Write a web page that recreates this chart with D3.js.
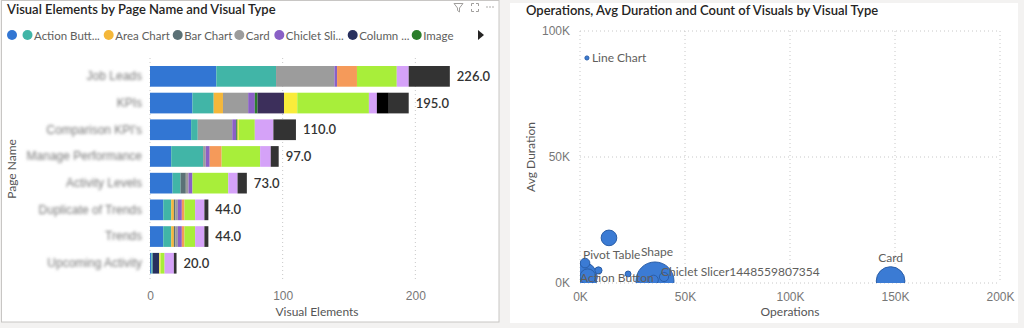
<!DOCTYPE html>
<html>
<head>
<meta charset="utf-8">
<script src="https://cdn.jsdelivr.net/npm/d3@7"></script>
<style>
  body { margin: 0; background: #f3f2f1; }
  svg { display: block; font-family: "Segoe UI", Lato, "Open Sans", sans-serif; }
</style>
</head>
<body>
<div id="chart"></div>
<script>
// ---- left chart data: visual elements per page, stacked by visual type ----
const pages = ["Job Leads", "KPIs", "Comparison KPI's", "Manage Performance",
  "Activity Levels", "Duplicate of Trends", "Trends", "Upcoming Activity"];
const visualTypes = ["", "Action Button", "Area Chart", "Bar Chart", "Card", "Chiclet Slicer",
  "Column Chart", "Image", "KPI", "Line Chart", "Multi-row Card", "Shape", "Slicer", "Table", "Textbox"];
const typeColors = ["#3276d3", "#41b5a7", "#f4b73a", "#5b7176", "#9c9c9c", "#8a60c6",
  "#28305e", "#2b7d2b", "#f59a5a", "#3c2f5b", "#f9ec3b", "#a8ee3a", "#d5a2f8", "#000000", "#333333"];
const legendLabels = ["", "Action Butt...", "Area Chart", "Bar Chart", "Card", "Chiclet Sli...", "Column ...", "Image"];

const countBlank     = [50, 32, 31, 16, 17, 10, 10, 1];
const countAction    = [45, 16, 5, 24, 6, 6, 6, 1];
const countArea      = [0, 7, 0, 0, 0, 2, 2, 0];
const countBar       = [0, 0, 0, 0, 4, 1, 1, 0];
const countCard      = [44, 19, 26, 2, 2, 2, 2, 0];
const countChiclet   = [2, 5, 3, 3, 3, 3, 3, 0];
const countColumn    = [0, 0, 0, 0, 0, 0, 0, 5];
const countImage     = [0, 2, 1, 0, 0, 0, 0, 0];
const countKpi       = [15, 0, 0, 9, 0, 2, 2, 0];
const countLine      = [0, 20, 0, 0, 0, 0, 0, 0];
const countMultiRow  = [0, 10, 1, 0, 0, 0, 0, 1];
const countShape     = [30, 54, 12, 29, 27, 8, 8, 3];
const countSlicer    = [9, 6, 14, 8, 7, 7, 7, 7];
const countTable     = [0, 9, 0, 0, 0, 0, 0, 0];
const countTextbox   = [31, 15, 17, 6, 7, 3, 3, 2];
const seriesCounts = [countBlank, countAction, countArea, countBar, countCard, countChiclet,
  countColumn, countImage, countKpi, countLine, countMultiRow, countShape, countSlicer, countTable, countTextbox];
const barTicks = [0, 100, 200];

// ---- right chart data: operations / avg duration / count per visual type ----
const bubbleNames    = ["Action Button", "Pivot Table", "", "", "Line Chart", "", "Shape", "", "Chiclet Slicer1448559807354", "", "Card"];
const bubbleOps      = [1000, 2400, 8800, 3700, 3300, 13800, 35700, 35000, 40000, 22900, 147900];
const bubbleDuration = [2400, 7900, 5000, 2500, 89300, 17900, 800, 1200, 2400, 3600, 800];
const bubbleCount    = [109, 11, 6, 29, 2, 29, 171, 11, 10, 4, 97];
const opsTicks = [0, 50000, 100000, 150000, 200000];
const durTicks = [0, 50000, 100000];

// label placement tweaks (style only)
const labelNudge = {
  "Line Chart": { anchor: "start", dx: 5, dy: 4 },
  "Pivot Table": { anchor: "start", dx: -2, dy: -4 },
  "Action Button": { anchor: "start", dx: -2, dy: 5 },
  "Chiclet Slicer1448559807354": { anchor: "start", dx: -3, dy: -1 },
  "Shape": { anchor: "middle", dx: 2, dy: -25 },
};

const W = 1024, H = 328;
const svg = d3.select("#chart").append("svg").attr("width", W).attr("height", H);
const defs = svg.append("defs");

defs.append("filter").attr("id", "blur")
  .attr("x", "-10%").attr("y", "-50%").attr("width", "120%").attr("height", "200%")
  .append("feGaussianBlur").attr("stdDeviation", 1.5);

// ---------------- left panel ----------------
svg.append("rect").attr("x", 1.5).attr("y", 0.5).attr("width", 497.5).attr("height", 321.5)
  .attr("fill", "#fff").attr("stroke", "#c8c6c4");

svg.append("text").attr("x", 7).attr("y", 14).attr("font-size", 13).attr("font-weight", 600)
  .attr("fill", "#252423").text("Visual Elements by Page Name and Visual Type");

// header icons
const icons = svg.append("g").attr("stroke", "#a19f9d").attr("fill", "none").attr("stroke-width", 1);
icons.append("path").attr("d", "M454,3.5 h9 l-3.5,4.5 v4 l-2,-1.5 v-2.5 z");
icons.append("path").attr("d", "M471.5,6 v-2.5 h2.5 M476,3.5 h2.5 v2.5 M478.5,9 v2.5 h-2.5 M474,11.5 h-2.5 v-2.5");
svg.append("g").attr("fill", "#a19f9d").selectAll("circle").data([0, 1, 2]).join("circle")
  .attr("cx", d => 487 + d * 3).attr("cy", 7).attr("r", 0.8);

// legend
const legendX = [12, 27.5, 108.7, 177.7, 239.3, 279.3, 352.7, 416.7];
const legend = svg.append("g").attr("font-size", 11.5).attr("fill", "#605e5c");
legendLabels.forEach((lab, i) => {
  legend.append("circle").attr("cx", legendX[i]).attr("cy", 35).attr("r", 5).attr("fill", typeColors[i]);
  legend.append("text").attr("x", legendX[i] + 6.5).attr("y", 39.5).text(lab);
});
svg.append("path").attr("d", "M478,30 l6,5 l-6,5 z").attr("fill", "#252423");

// scales
const x = d3.scaleLinear().domain([0, 251]).range([150, 483]);
const y = d3.scaleBand().domain(pages).range([58, 281.6]).paddingInner(0.225).paddingOuter(0.3);

// grid
svg.append("g").selectAll("line").data(barTicks).join("line")
  .attr("x1", d => x(d)).attr("x2", d => x(d)).attr("y1", 58).attr("y2", 281)
  .attr("stroke", "#c8c8c8").attr("stroke-dasharray", "1,3");

// axes
const xAxis = svg.append("g").attr("transform", "translate(0,281)")
  .call(d3.axisBottom(x).tickValues(barTicks).tickSize(0).tickPadding(10));
xAxis.select(".domain").remove();
xAxis.selectAll("text").attr("font-size", 12).attr("fill", "#777").attr("font-family", null);

const yAxis = svg.append("g").attr("transform", "translate(142,0)")
  .call(d3.axisLeft(y).tickSize(0).tickPadding(0));
yAxis.select(".domain").remove();
yAxis.selectAll("text").attr("font-size", 12).attr("fill", "#777").attr("font-family", null)
  .attr("filter", "url(#blur)");

svg.append("text").attr("x", 317).attr("y", 316).attr("text-anchor", "middle")
  .attr("font-size", 12).attr("fill", "#555").text("Visual Elements");
svg.append("text").attr("transform", "translate(16,169) rotate(-90)").attr("text-anchor", "middle")
  .attr("font-size", 12).attr("fill", "#555").text("Page Name");

// stacked bars
const table = pages.map((p, i) => {
  const row = { page: p, total: d3.sum(seriesCounts, s => s[i]) };
  visualTypes.forEach((t, k) => { row[k] = seriesCounts[k][i]; });
  return row;
});
const stack = d3.stack().keys(visualTypes.map((t, k) => k))(table);

svg.append("g").selectAll("g").data(stack).join("g")
  .attr("fill", d => typeColors[d.key])
  .selectAll("rect").data(d => d).join("rect")
  .attr("x", d => x(d[0])).attr("width", d => x(d[1]) - x(d[0]))
  .attr("y", d => y(d.data.page)).attr("height", y.bandwidth());

// totals
svg.append("g").selectAll("text").data(table).join("text")
  .attr("x", d => x(d.total) + 7)
  .attr("y", d => y(d.page) + y.bandwidth() / 2 + 4.5)
  .attr("font-size", 13).attr("font-weight", 600).attr("fill", "#333")
  .text(d => d3.format(".1f")(d.total));

// ---------------- right panel ----------------
svg.append("rect").attr("x", 510).attr("y", 3).attr("width", 508).attr("height", 320).attr("fill", "#fff");

svg.append("text").attr("x", 526).attr("y", 15).attr("font-size", 13).attr("font-weight", 600)
  .attr("fill", "#252423").text("Operations, Avg Duration and Count of Visuals by Visual Type");

const bx = d3.scaleLinear().domain([0, 200000]).range([580, 1000]);
const by = d3.scaleLinear().domain([0, 100000]).range([283, 31]);
const br = d3.scaleSqrt().domain([0, 171]).range([0, 19]);
const kFmt = d => d / 1000 + "K";

svg.append("g").selectAll("line").data(durTicks).join("line")
  .attr("x1", 580).attr("x2", 1000).attr("y1", d => by(d)).attr("y2", d => by(d))
  .attr("stroke", "#c8c8c8").attr("stroke-dasharray", "1,3");
svg.append("g").selectAll("line").data(opsTicks).join("line")
  .attr("x1", d => bx(d)).attr("x2", d => bx(d)).attr("y1", 31).attr("y2", 283)
  .attr("stroke", "#c8c8c8").attr("stroke-dasharray", "1,3");

const bxAxis = svg.append("g").attr("transform", "translate(0,283)")
  .call(d3.axisBottom(bx).tickValues(opsTicks).tickFormat(kFmt).tickSize(0).tickPadding(9));
bxAxis.select(".domain").remove();
bxAxis.selectAll("text").attr("font-size", 12).attr("fill", "#777").attr("font-family", null);

const byAxis = svg.append("g").attr("transform", "translate(570,0)")
  .call(d3.axisLeft(by).tickValues(durTicks).tickFormat(kFmt).tickSize(0).tickPadding(0));
byAxis.select(".domain").remove();
byAxis.selectAll("text").attr("font-size", 12).attr("fill", "#777").attr("font-family", null);

svg.append("text").attr("x", 790).attr("y", 316).attr("text-anchor", "middle")
  .attr("font-size", 12).attr("fill", "#555").text("Operations");
svg.append("text").attr("transform", "translate(535,157) rotate(-90)").attr("text-anchor", "middle")
  .attr("font-size", 12).attr("fill", "#555").text("Avg Duration");

defs.append("clipPath").attr("id", "plot")
  .append("rect").attr("x", 580).attr("y", 25).attr("width", 425).attr("height", 258);

const bubbles = bubbleNames.map((n, i) => ({
  name: n, ops: bubbleOps[i], dur: bubbleDuration[i], count: bubbleCount[i]
}));

svg.append("g").attr("clip-path", "url(#plot)").selectAll("circle").data(bubbles).join("circle")
  .attr("cx", d => bx(d.ops)).attr("cy", d => by(d.dur)).attr("r", d => br(d.count))
  .attr("fill", "#3b7bd4").attr("stroke", "#2a5ea8").attr("stroke-width", 1);

svg.append("g").selectAll("text").data(bubbles.filter(d => d.name)).join("text")
  .attr("font-size", 12).attr("fill", "#605e5c")
  .attr("text-anchor", d => labelNudge[d.name] ? labelNudge[d.name].anchor : "middle")
  .attr("x", d => bx(d.ops) + (labelNudge[d.name] ? labelNudge[d.name].dx : 0))
  .attr("y", d => labelNudge[d.name]
    ? by(d.dur) + labelNudge[d.name].dy
    : by(d.dur) - br(d.count) - 5)
  .text(d => d.name);
</script>
</body>
</html>
